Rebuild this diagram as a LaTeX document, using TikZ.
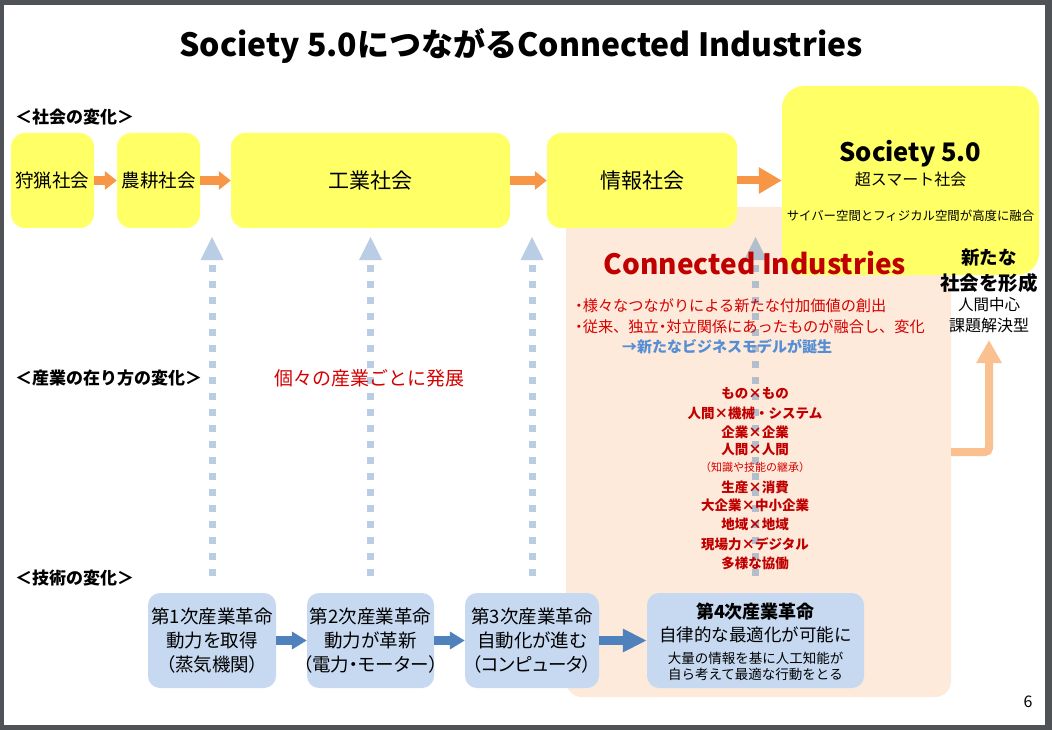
\documentclass[tikz,border=0pt]{standalone}
\usepackage{fontspec}
\setmainfont{Noto Sans CJK JP}
\newfontfamily\jpprop{Noto Sans CJK JP}[RawFeature=+palt]
\usetikzlibrary{arrows.meta,calc}
\definecolor{framegray}{HTML}{4F5256}
\definecolor{ylw}{HTML}{FFFF66}
\definecolor{orng}{HTML}{F79646}
\definecolor{peach}{HTML}{FDEADA}
\definecolor{lorng}{HTML}{FAC090}
\definecolor{lblue}{HTML}{C6D9F1}
\definecolor{barr}{HTML}{4F81BD}
\definecolor{dblue}{HTML}{B9CDE5}
\definecolor{dgray}{HTML}{B3BECD}
\definecolor{cired}{HTML}{C00000}
\definecolor{txred}{HTML}{D60000}
\definecolor{bizblue}{HTML}{558ED5}
\newcommand\fsz[2]{\fontsize{#1}{#2}\selectfont}
\newcommand\nbul{{\jpprop ・}}
\begin{document}
\begin{tikzpicture}[x=1pt,y=-1pt,
  ybox/.style={fill=ylw, rounded corners=14pt, inner sep=0pt, align=center},
  bbox/.style={fill=lblue, rounded corners=12pt, inner sep=0pt, minimum height=95pt},
  btext/.style={inner sep=0pt, align=center, font=\jpprop\fsz{18.5}{24}},
  oarr/.style={draw=orng, line width=8.5pt, -{Triangle[length=12pt,width=18pt]}},
  oarrbig/.style={draw=orng, line width=8pt, -{Triangle[length=23pt,width=25pt]}},
  barrow/.style={draw=barr, line width=9pt, -{Triangle[length=15pt,width=17pt]}},
  barrowbig/.style={draw=barr, line width=9pt, -{Triangle[length=24pt,width=22pt]}},
  dotline/.style={line width=7pt, dash pattern=on 7pt off 9pt},
  sect/.style={anchor=west, inner sep=0pt, font=\bfseries\fsz{17}{20}},
  litem/.style={inner sep=0pt, text=cired, font=\bfseries\fsz{13.5}{16}},
  plain/.style={inner sep=0pt}
]
\useasboundingbox (0,0) rectangle (1052,730);
% frame
\fill[framegray] (0,0) rectangle (1052,730);
\fill[white] (4,5) rectangle (1045,725);

% title
\node[plain, font=\bfseries\fsz{32}{36}] (title) at (521,46) {Society 5.0につながるConnected Industries};

% section labels
\node[sect] (s1) at (15,117) {＜社会の変化＞};
\node[sect] (s2) at (15,378) {＜産業の在り方の変化＞};
\node[sect] (s3) at (15,578) {＜技術の変化＞};

% peach area
\node[fill=peach, rounded corners=16pt, minimum width=385pt, minimum height=490pt, inner sep=0pt] (ci) at (758.5,452) {};

% coordinates for dotted arrows
\coordinate (dtop) at (0,265);
\coordinate (dbot) at (0,576);
\coordinate (dhead) at (0,260);
\coordinate (dtip) at (0,237);

% bottom boxes
\node[bbox, minimum width=128pt] (b1) at (212,640.5) {};
\node[bbox, minimum width=127pt] (b2) at (370.5,640.5) {};
\node[bbox, minimum width=134pt] (b3) at (532,640.5) {};
\node[bbox, minimum width=217pt] (b4) at (755.5,640.5) {};
\node[btext] (b1t) at (b1) {第1次産業革命\\動力を取得\\（蒸気機関）};
\node[btext] (b2t) at (b2) {第2次産業革命\\動力が革新\\（電力・モーター）};
\node[btext] (b3t) at (b3) {第3次産業革命\\自動化が進む\\（コンピュータ）};
\node[plain, font=\bfseries\fsz{18}{22}] (b4a) at (755.5,612) {第4次産業革命};
\node[plain, font=\fsz{17.5}{20}] (b4b) at (755.5,635) {自律的な最適化が可能に};
\node[plain, font=\fsz{13.5}{16}, align=center] (b4c) at (755.5,666) {大量の情報を基に人工知能が\\自ら考えて最適な行動をとる};

% dotted arrows
\foreach \n in {b1,b2,b3}{
  \draw[dotline, draw=dblue] (\n.north |- dtop) -- (\n.north |- dbot);
  \fill[dblue] ($(\n.north |- dhead)+(-11.5,0)$) -- (\n.north |- dtip) -- ($(\n.north |- dhead)+(11.5,0)$) -- cycle;
}
\draw[dotline, draw=dgray] (b4.north |- dtop) -- (b4.north |- dbot);
\fill[dgray] ($(b4.north |- dhead)+(-11.5,0)$) -- (b4.north |- dtip) -- ($(b4.north |- dhead)+(11.5,0)$) -- cycle;

% bottom arrows
\draw[barrow] (b1.east) -- (b2.west);
\draw[barrow] (b2.east) -- (b3.west);
\draw[barrowbig] (b3.east) -- (b4.west);

% top boxes
\node[ybox, minimum width=83pt, minimum height=95pt, font=\fsz{18.5}{20}] (r1) at (52.5,180.5) {狩猟社会};
\node[ybox, minimum width=83pt, minimum height=95pt, font=\fsz{18.5}{20}] (r2) at (158.5,180.5) {農耕社会};
\node[ybox, minimum width=279pt, minimum height=95pt, font=\fsz{21}{24}] (r3) at (370.5,180.5) {工業社会};
\node[ybox, minimum width=190pt, minimum height=95pt, font=\fsz{21}{24}] (r4) at (642,180.5) {情報社会};
\node[ybox, rounded corners=22pt, minimum width=257pt, minimum height=189pt] (r5) at (910.5,180.5) {};
\node[plain, font=\bfseries\fsz{25.5}{28}] (r5a) at (910.5,154) {Society 5.0};
\node[plain, font=\fsz{16}{18}] (r5b) at (910.5,179) {超スマート社会};
\node[plain, font=\fsz{12.4}{14}] (r5c) at (910.5,216) {サイバー空間とフィジカル空間が高度に融合};

% top arrows
\draw[oarr] (r1.east) -- (r2.west);
\draw[oarr] (r2.east) -- (r3.west);
\draw[oarr] (r3.east) -- (r4.west);
\draw[oarrbig] (r4.east) -- (r5.west);

% L arrow to new society
\coordinate (ltip) at (989,340);
\draw[draw=lorng, line width=8pt, rounded corners=4pt, -{Triangle[length=23pt,width=24pt]}] (ci.east) -| (ltip);

% new society texts
\node[plain, font=\bfseries\fsz{18.5}{20}] (n1) at (989,258) {新たな};
\node[plain, font=\bfseries\fsz{19.5}{22}] (n2) at (989,283) {社会を形成};
\node[plain, font=\fsz{15.5}{18}] (n3) at (989,305) {人間中心};
\node[plain, font=\fsz{16}{18}] (n4) at (989,325) {課題解決型};

% industry text
\node[plain, text=txred, font=\fsz{19}{22}] (ind) at (369,378) {個々の産業ごとに発展};

% connected industries
\node[plain, text=cired, font=\bfseries\fsz{28}{32}] (cit) at (755,263) {Connected Industries};
\node[plain, anchor=west, text=txred, font=\fsz{15.2}{17}] (cb1) at (575,306) {\nbul 様々なつながりによる新たな付加価値の創出};
\node[plain, anchor=west, text=txred, font=\fsz{15.2}{17}] (cb2) at (575,327) {\nbul 従来、独立\nbul 対立関係にあったものが融合し、変化};
\node[plain, anchor=west, text=bizblue, font=\bfseries\fsz{15}{17}] (cb3) at (622,347) {→新たなビジネスモデルが誕生};

\node[litem] (l1) at (755,393) {もの×もの};
\node[litem] (l2) at (755,413) {人間×機械・システム};
\node[litem] (l3) at (755,432) {企業×企業};
\node[litem] (l4) at (755,450) {人間×人間};
\node[plain, text=txred, font=\fsz{11}{13}] (l5) at (755,467) {（知識や技能の継承）};
\node[litem] (l6) at (755,487) {生産×消費};
\node[litem] (l7) at (755,505) {大企業×中小企業};
\node[litem] (l8) at (755,524) {地域×地域};
\node[litem] (l9) at (755,544) {現場力×デジタル};
\node[litem] (l10) at (755,563) {多様な協働};

% page number
\node[plain, font=\fsz{16}{18}] (pg) at (1028,702) {6};
\end{tikzpicture}
\end{document}
